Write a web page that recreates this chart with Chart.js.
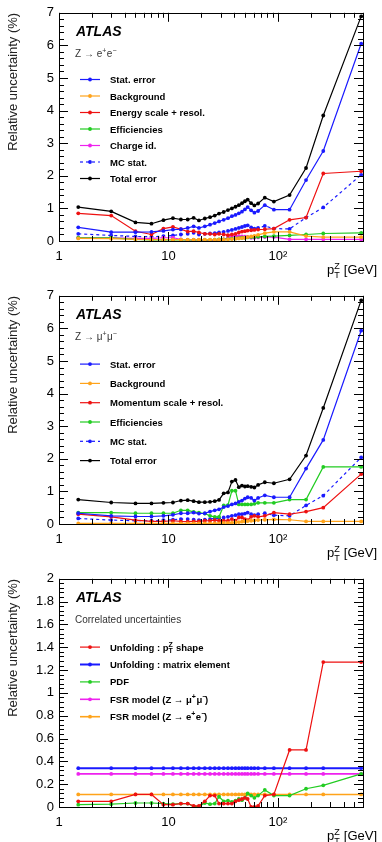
<!DOCTYPE html>
<html>
<head>
<meta charset="utf-8">
<script src="https://cdn.jsdelivr.net/npm/chart.js@4.4.1/dist/chart.umd.min.js"></script>
<style>
  html, body { margin: 0; padding: 0; background: #fff; }
  body { width: 382px; height: 842px; position: relative; overflow: hidden; }
  canvas { position: absolute; left: 0; }
</style>
</head>
<body>
<canvas id="eeChart" width="382" height="283" style="top:0"></canvas>
<canvas id="mmChart" width="382" height="283" style="top:283px"></canvas>
<canvas id="corrChart" width="382" height="276" style="top:566px"></canvas>
<script>
// bin centres in pT(Z) [GeV]
const ptBins = [1.5, 3, 5, 7, 9, 11, 13, 15, 17, 19, 21.5, 24, 26.5, 29, 32, 35, 38, 41, 44, 47, 50, 53, 57, 61, 66, 76, 92, 128, 181, 260, 577];

const xTickValues = [1, 10, 100];
const xTickLabels = ['1', '10', '10\u00b2'];

// Z -> ee
const eeStat = [0.42, 0.27, 0.27, 0.28, 0.31, 0.35, 0.36, 0.40, 0.45, 0.40, 0.45, 0.50, 0.55, 0.60, 0.65, 0.70, 0.76, 0.80, 0.85, 0.90, 0.97, 1.04, 0.94, 0.87, 0.92, 1.10, 0.96, 0.96, 1.87, 2.76, 6.05];
const eeBkg = [0.08, 0.07, 0.05, 0.04, 0.04, 0.04, 0.04, 0.04, 0.04, 0.04, 0.04, 0.04, 0.04, 0.04, 0.04, 0.05, 0.06, 0.07, 0.08, 0.09, 0.10, 0.12, 0.14, 0.16, 0.19, 0.24, 0.28, 0.28, 0.15, 0.12, 0.12];
const eeScale = [0.85, 0.78, 0.30, 0.20, 0.38, 0.43, 0.36, 0.29, 0.30, 0.26, 0.22, 0.22, 0.20, 0.22, 0.20, 0.18, 0.20, 0.22, 0.26, 0.29, 0.30, 0.32, 0.33, 0.34, 0.35, 0.36, 0.38, 0.65, 0.72, 2.07, 2.14];
const eeEff = [0.10, 0.10, 0.05, 0.03, 0.03, 0.03, 0.03, 0.03, 0.03, 0.03, 0.03, 0.03, 0.04, 0.05, 0.05, 0.06, 0.07, 0.08, 0.09, 0.10, 0.10, 0.11, 0.12, 0.12, 0.13, 0.14, 0.15, 0.17, 0.20, 0.23, 0.25];
const eeCharge = [0.10, 0.10, 0.08, 0.08, 0.10, 0.10, 0.05, 0.03, 0.03, 0.03, 0.02, 0.02, 0.02, 0.03, 0.05, 0.10, 0.15, 0.16, 0.15, 0.14, 0.13, 0.12, 0.10, 0.10, 0.11, 0.12, 0.12, 0.05, 0.05, 0.05, 0.05];
const eeMC = [0.22, 0.17, 0.14, 0.13, 0.15, 0.17, 0.20, 0.22, 0.25, 0.20, 0.22, 0.23, 0.24, 0.26, 0.28, 0.31, 0.34, 0.37, 0.40, 0.43, 0.46, 0.48, 0.42, 0.38, 0.40, 0.46, 0.38, 0.37, 0.72, 1.03, 2.03];
const eeTotal = [1.04, 0.91, 0.57, 0.53, 0.64, 0.70, 0.66, 0.66, 0.71, 0.63, 0.69, 0.73, 0.78, 0.84, 0.89, 0.95, 1.00, 1.05, 1.10, 1.16, 1.22, 1.27, 1.16, 1.09, 1.15, 1.33, 1.21, 1.41, 2.24, 3.85, 6.89];

// Z -> mumu
const mmStat = [0.33, 0.25, 0.23, 0.23, 0.25, 0.28, 0.33, 0.33, 0.35, 0.32, 0.33, 0.38, 0.42, 0.45, 0.52, 0.55, 0.60, 0.63, 0.68, 0.72, 0.78, 0.82, 0.80, 0.72, 0.80, 0.88, 0.82, 0.82, 1.70, 2.58, 5.93];
const mmBkg = [0.02, 0.02, 0.02, 0.02, 0.02, 0.02, 0.02, 0.02, 0.02, 0.02, 0.02, 0.02, 0.02, 0.02, 0.03, 0.03, 0.04, 0.05, 0.06, 0.07, 0.08, 0.09, 0.10, 0.11, 0.12, 0.13, 0.14, 0.13, 0.08, 0.08, 0.08];
const mmScale = [0.30, 0.22, 0.12, 0.08, 0.08, 0.10, 0.08, 0.07, 0.08, 0.08, 0.10, 0.10, 0.12, 0.10, 0.10, 0.10, 0.15, 0.10, 0.20, 0.20, 0.15, 0.12, 0.22, 0.25, 0.22, 0.25, 0.35, 0.30, 0.38, 0.50, 1.53];
const mmEff = [0.35, 0.35, 0.33, 0.33, 0.33, 0.33, 0.42, 0.42, 0.37, 0.35, 0.32, 0.25, 0.22, 0.22, 0.57, 0.58, 1.02, 1.02, 0.60, 0.60, 0.60, 0.60, 0.60, 0.62, 0.65, 0.65, 0.65, 0.75, 0.75, 1.75, 1.75];
const mmMC = [0.17, 0.12, 0.10, 0.10, 0.12, 0.13, 0.15, 0.15, 0.13, 0.12, 0.13, 0.15, 0.17, 0.18, 0.20, 0.22, 0.25, 0.27, 0.30, 0.30, 0.32, 0.35, 0.30, 0.27, 0.30, 0.33, 0.27, 0.25, 0.57, 0.87, 2.04];
const mmTotal = [0.75, 0.66, 0.63, 0.63, 0.65, 0.66, 0.72, 0.73, 0.70, 0.67, 0.67, 0.68, 0.70, 0.74, 0.94, 0.97, 1.30, 1.35, 1.13, 1.18, 1.15, 1.16, 1.14, 1.12, 1.20, 1.28, 1.25, 1.37, 2.10, 3.56, 6.86];

// correlated
const unfShape = [0.05, 0.05, 0.11, 0.11, 0.02, 0.02, 0.03, 0.03, 0.01, 0.01, 0.05, 0.10, 0.10, 0.03, 0.03, 0.03, 0.03, 0.05, 0.06, 0.07, 0.08, 0.07, 0.00, 0.00, 0.01, 0.10, 0.11, 0.50, 0.50, 1.27, 1.27];
const unfME = [0.34, 0.34, 0.34, 0.34, 0.34, 0.34, 0.34, 0.34, 0.34, 0.34, 0.34, 0.34, 0.34, 0.34, 0.34, 0.34, 0.34, 0.34, 0.34, 0.34, 0.34, 0.34, 0.34, 0.34, 0.34, 0.34, 0.34, 0.34, 0.34, 0.34, 0.34];
const pdf = [0.02, 0.025, 0.035, 0.035, 0.03, 0.025, 0.03, 0.03, 0.005, 0.005, 0.035, 0.025, 0.03, 0.09, 0.05, 0.055, 0.045, 0.055, 0.07, 0.06, 0.08, 0.12, 0.10, 0.08, 0.10, 0.15, 0.10, 0.10, 0.16, 0.19, 0.29];
const fsrMM = [0.29, 0.29, 0.29, 0.29, 0.29, 0.29, 0.29, 0.29, 0.29, 0.29, 0.29, 0.29, 0.29, 0.29, 0.29, 0.29, 0.29, 0.29, 0.29, 0.29, 0.29, 0.29, 0.29, 0.29, 0.29, 0.29, 0.29, 0.29, 0.29, 0.29, 0.29];
const fsrEE = [0.11, 0.11, 0.11, 0.11, 0.11, 0.11, 0.11, 0.11, 0.11, 0.11, 0.11, 0.11, 0.11, 0.11, 0.11, 0.11, 0.11, 0.11, 0.11, 0.11, 0.11, 0.11, 0.11, 0.11, 0.11, 0.11, 0.11, 0.11, 0.11, 0.11, 0.11];

const FONT = "'Liberation Sans', Arial, Helvetica, sans-serif";
const BLUE = '#1a1aff', ORANGE = '#ffa31a', RED = '#ee1111', GREEN = '#22cc22', MAGENTA = '#ee22ee', BLACK = '#000000';

Chart.defaults.font.family = FONT;

// split "p_T^Z" / "e^+" style labels into pieces
function richParts(str) {
  const parts = [];
  let buf = '';
  let i = 0;
  while (i < str.length) {
    const c = str[i];
    if (c === '_' || c === '^') {
      if (buf) { parts.push({ t: buf }); buf = ''; }
      if (c === '_' && str[i + 2] === '^') {
        parts.push({ sub: str[i + 1], sup: str[i + 3] });
        i += 4;
      } else if (c === '_') {
        parts.push({ sub: str[i + 1] });
        i += 2;
      } else {
        parts.push({ sup: str[i + 1] });
        i += 2;
      }
    } else {
      buf += c;
      i++;
    }
  }
  if (buf) parts.push({ t: buf });
  return parts;
}

function drawRich(ctx, str, x, y, size, weight, align, color) {
  const parts = richParts(str);
  const big = weight + ' ' + size + 'px ' + FONT;
  const small = weight + ' ' + Math.round(size * 0.7) + 'px ' + FONT;
  const widthOf = p => {
    if (p.t) { ctx.font = big; return ctx.measureText(p.t).width; }
    ctx.font = small;
    return Math.max(p.sub ? ctx.measureText(p.sub).width : 0, p.sup ? ctx.measureText(p.sup).width : 0) + 0.5;
  };
  const total = parts.reduce((acc, p) => acc + widthOf(p), 0);
  let cx = align === 'right' ? x - total : x;
  ctx.fillStyle = color || '#000';
  ctx.textAlign = 'left';
  ctx.textBaseline = 'alphabetic';
  parts.forEach(p => {
    const w = widthOf(p);
    if (p.t) {
      ctx.font = big;
      ctx.fillText(p.t, cx, y);
    } else {
      ctx.font = small;
      if (p.sup) ctx.fillText(p.sup === '-' ? '\u2212' : p.sup, cx, y - size * 0.42);
      if (p.sub) ctx.fillText(p.sub, cx, y + size * 0.28);
    }
    cx += w;
  });
}

// ROOT-like frame, inward ticks, labels and legend
const atlasDecor = {
  id: 'atlasDecor',
  afterDraw(chart, args, opts) {
    const { ctx, chartArea: a, scales: { x, y } } = chart;
    ctx.save();
    ctx.strokeStyle = '#000';
    ctx.lineWidth = 1;
    ctx.setLineDash([]);
    ctx.strokeRect(Math.round(a.left) + 0.5, Math.round(a.top) + 0.5, Math.round(a.right - a.left), Math.round(a.bottom - a.top));

    ctx.beginPath();
    [1, 10, 100].forEach(d => {
      for (let k = 1; k <= 9; k++) {
        const v = k * d;
        if (v > x.max) break;
        const px = Math.round(x.getPixelForValue(v)) + 0.5;
        const len = k === 1 ? 9 : 5;
        ctx.moveTo(px, a.bottom); ctx.lineTo(px, a.bottom - len);
        ctx.moveTo(px, a.top); ctx.lineTo(px, a.top + len);
      }
    });
    const nMinor = Math.round(y.max / opts.minor);
    const per = Math.round(opts.major / opts.minor);
    for (let i = 0; i <= nMinor; i++) {
      const py = Math.round(y.getPixelForValue(i * opts.minor)) + 0.5;
      const len = i % per === 0 ? 9 : 5;
      ctx.moveTo(a.left, py); ctx.lineTo(a.left + len, py);
      ctx.moveTo(a.right, py); ctx.lineTo(a.right - len, py);
    }
    ctx.stroke();

    // header texts
    ctx.fillStyle = '#000';
    ctx.font = 'italic bold 14px ' + FONT;
    ctx.textAlign = 'left';
    ctx.textBaseline = 'alphabetic';
    ctx.fillText('ATLAS', a.left + 17, a.top + 23);
    drawRich(ctx, opts.subtitle, a.left + 16, a.top + 44, 10, 'normal', 'left', '#333');

    // legend
    chart.data.datasets.forEach((ds, i) => {
      const yy = a.top + opts.legendStart + i * opts.legendGap;
      ctx.strokeStyle = ds.borderColor;
      ctx.lineWidth = ds.borderWidth;
      ctx.setLineDash(ds.borderDash || []);
      ctx.beginPath();
      ctx.moveTo(a.left + 21, yy);
      ctx.lineTo(a.left + 41, yy);
      ctx.stroke();
      ctx.setLineDash([]);
      ctx.fillStyle = ds.borderColor;
      ctx.beginPath();
      ctx.arc(a.left + 31, yy, 1.9, 0, Math.PI * 2);
      ctx.fill();
      drawRich(ctx, ds.label, a.left + 51, yy + 3.5, 9.5, 'bold', 'left', '#000');
    });

    // x axis title
    drawRich(ctx, 'p_T^Z [GeV]', 377, a.bottom + 33, 13, 'normal', 'right', '#000');
    ctx.restore();
  }
};

function series(label, values, color, extra) {
  return Object.assign({
    label: label,
    data: ptBins.map((x, i) => ({ x: x, y: values[i] })),
    borderColor: color,
    backgroundColor: color,
    pointBackgroundColor: color,
    pointBorderWidth: 0,
    pointRadius: 1.9,
    borderWidth: 1.2,
    tension: 0,
    fill: false
  }, extra || {});
}

function makePanel(id, datasets, cfg) {
  return new Chart(document.getElementById(id).getContext('2d'), {
    type: 'line',
    data: { datasets: datasets },
    options: {
      responsive: false,
      animation: false,
      events: [],
      layout: { padding: { top: cfg.padTop, right: 19, left: 0, bottom: 0 } },
      plugins: {
        legend: { display: false },
        tooltip: { enabled: false },
        atlasDecor: cfg
      },
      scales: {
        x: {
          type: 'logarithmic',
          min: 1,
          max: 600,
          grid: { display: false, drawTicks: false },
          border: { display: false },
          afterBuildTicks: s => { s.ticks = xTickValues.map(v => ({ value: v })); },
          afterFit: s => { s.height = cfg.xHeight; },
          ticks: {
            color: '#000',
            font: { size: 13 },
            padding: 8,
            maxRotation: 0,
            autoSkip: false,
            callback: (v, i) => xTickLabels[i]
          }
        },
        y: {
          min: 0,
          max: cfg.yMax,
          grid: { display: false, drawTicks: false },
          border: { display: false },
          afterFit: s => { s.width = 59; },
          ticks: {
            stepSize: cfg.major,
            color: '#000',
            font: { size: 13 },
            padding: 5,
            callback: v => String(Math.round(v * 100) / 100)
          },
          title: {
            display: true,
            text: 'Relative uncertainty (%)',
            align: 'end',
            color: '#222',
            font: { size: 13 },
            padding: { top: 6, bottom: 0 }
          }
        }
      }
    },
    plugins: [atlasDecor]
  });
}

makePanel('eeChart', [
  series('Stat. error', eeStat, BLUE),
  series('Background', eeBkg, ORANGE),
  series('Energy scale + resol.', eeScale, RED),
  series('Efficiencies', eeEff, GREEN),
  series('Charge id.', eeCharge, MAGENTA),
  series('MC stat.', eeMC, BLUE, { borderDash: [3, 3] }),
  series('Total error', eeTotal, BLACK)
], { padTop: 12, xHeight: 42, yMax: 7, major: 1, minor: 0.2, subtitle: 'Z \u2192 e^+e^-', legendStart: 66.7, legendGap: 16.5 });

makePanel('mmChart', [
  series('Stat. error', mmStat, BLUE),
  series('Background', mmBkg, ORANGE),
  series('Momentum scale + resol.', mmScale, RED),
  series('Efficiencies', mmEff, GREEN),
  series('MC stat.', mmMC, BLUE, { borderDash: [3, 3] }),
  series('Total error', mmTotal, BLACK)
], { padTop: 12, xHeight: 42, yMax: 7, major: 1, minor: 0.2, subtitle: 'Z \u2192 \u03bc^+\u03bc^-', legendStart: 68.3, legendGap: 19.3 });

makePanel('corrChart', [
  series('Unfolding : p_T^Z shape', unfShape, RED),
  series('Unfolding : matrix element', unfME, BLUE, { borderWidth: 2 }),
  series('PDF', pdf, GREEN),
  series('FSR model (Z \u2192 \u03bc^+\u03bc^-)', fsrMM, MAGENTA, { borderWidth: 1.6 }),
  series('FSR model (Z \u2192 e^+e^-)', fsrEE, ORANGE, { borderWidth: 1.6 })
], { padTop: 11, xHeight: 35, yMax: 2, major: 0.2, minor: 0.04, subtitle: 'Correlated uncertainties', legendStart: 68.3, legendGap: 17.4 });
</script>
</body>
</html>
